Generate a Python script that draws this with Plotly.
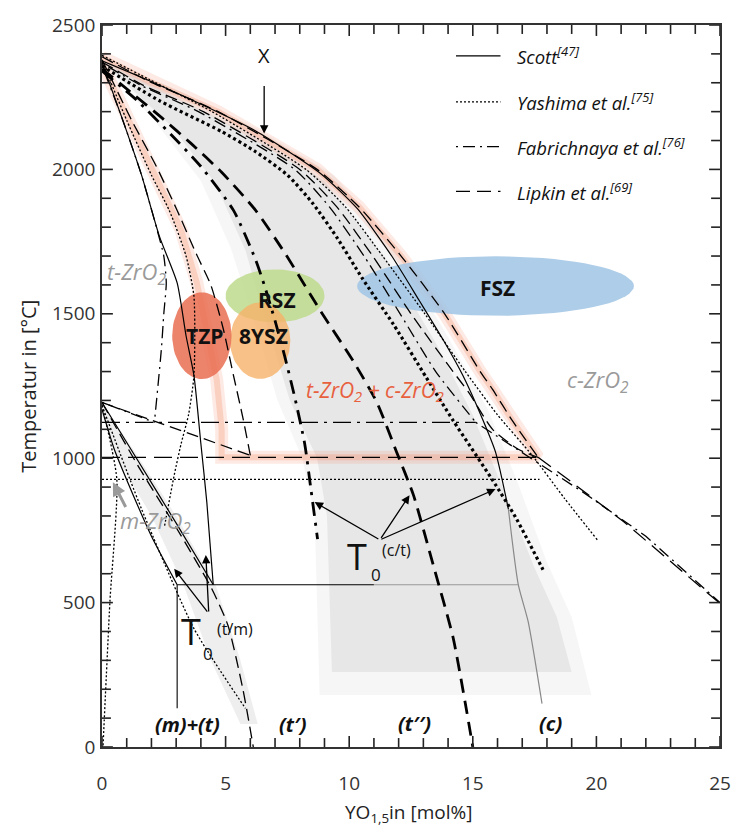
import math
import plotly.graph_objects as go

# ---------------- data (x: YO1.5 mol%, T: degC) ----------------
# Scott (solid)
SCOTT_C_X = [0, 1.92, 3.52, 6.2, 8.84, 10.32, 11.72, 12.84, 13.8, 14.6, 15.4, 15.92, 16.44]
SCOTT_C_T = [2376, 2307, 2245, 2134, 1986, 1865, 1700, 1545, 1410, 1286, 1134, 1021, 824]
SCOTT_C_LOW_X = [16.44, 16.84, 17.24, 17.8]
SCOTT_C_LOW_T = [824, 562, 434, 150]
SCOTT_T_X = [0, 0.8, 1.6, 2.32, 3.04, 3.4, 3.72, 4.0, 4.24, 4.5]
SCOTT_T_T = [2370, 2180, 1980, 1769, 1607, 1424, 1286, 1050, 848, 562]
SCOTT_EUT_X = [3.04, 11.0]
SCOTT_EUT_T = [562, 562]
SCOTT_EUT_GRAY_X = [11.0, 16.84]
SCOTT_EUT_GRAY_T = [562, 562]
SCOTT_MV_X = [3.04, 3.04]
SCOTT_MV_T = [562, 134]
SCOTT_LENS_UP_X = [0, 1.5, 3.0, 4.5]
SCOTT_LENS_UP_T = [1193, 985, 775, 562]
SCOTT_LENS_LO_X = [0, 0.5, 1.04, 2.0, 3.04]
SCOTT_LENS_LO_T = [1169, 1030, 917, 730, 562]

# Yashima et al. (dotted)
YASH_C_X = [0, 1.9, 4.45, 8.25, 9.85, 11.35, 13.06, 14.7, 16.0, 17.4, 18.7, 20.04]
YASH_C_T = [2395, 2312, 2200, 2000, 1870, 1700, 1500, 1300, 1150, 1010, 862, 717]
YASH_T_X = [0, 1.0, 2.0, 2.72, 3.4, 3.72, 3.72, 3.5, 3.2, 2.92, 2.52]
YASH_T_T = [2375, 2170, 1980, 1858, 1700, 1560, 1286, 1150, 1050, 941, 760]
YASH_EUT_X = [0, 17.7]
YASH_EUT_T = [927, 927]
YASH_M_X = [0, 1.6, 3.72, 5.8]
YASH_M_T = [1183, 824, 410, 134]
YASH_MAX_X = [0, 0.6, 0.32, 0.04]
YASH_MAX_T = [1183, 927, 503, 0]
YASH_T0_X = [0, 2.32, 4.84, 6.2, 7.52, 8.52, 9.52, 10.52, 11.8, 13.12, 14.2, 15.8, 16.72, 17.84]
YASH_T0_T = [2358, 2238, 2131, 2062, 1979, 1883, 1762, 1624, 1462, 1279, 1131, 924, 797, 614]

# Fabrichnaya et al. (dash-dot)
FAB_C_X = [0, 1.6, 3.9, 7.8, 9.2, 10.6, 12.06, 13.5, 15.12]
FAB_C_T = [2368, 2290, 2200, 2000, 1870, 1700, 1500, 1300, 1124]
FAB_HI_X = [15.12, 19.5, 22.0, 25.0]
FAB_HI_T = [1124, 880, 730, 500]
FAB_T_X = [0, 0.8, 1.6, 2.2, 2.5, 2.6, 2.5, 2.4, 2.12]
FAB_T_T = [2360, 2180, 1980, 1800, 1700, 1607, 1500, 1376, 1124]
FAB_EUT_X = [0, 15.12]
FAB_EUT_T = [1124, 1124]
FAB_M_X = [0, 2.12]
FAB_M_T = [1193, 1124]
FAB_T0_X = [0, 1.4, 2.8, 4.0, 5.32, 6.2, 6.6, 7.0, 7.4, 7.8, 8.2, 8.44, 8.72]
FAB_T0_T = [2341, 2240, 2120, 2010, 1858, 1690, 1590, 1476, 1350, 1210, 1050, 900, 720]

# Lipkin et al. (dashed)
LIP_C_X = [0, 1.9, 4.7, 8.7, 10.4, 12.1, 13.86, 15.3, 15.8, 16.6, 17.64]
LIP_C_T = [2390, 2305, 2200, 2000, 1870, 1700, 1500, 1300, 1238, 1130, 1003]
LIP_C2_X = [0, 1.7, 4.1, 8.0, 9.5, 10.95, 12.5, 14.2, 14.84, 15.8, 16.84, 17.64]
LIP_C2_T = [2372, 2290, 2200, 2000, 1870, 1700, 1500, 1300, 1227, 1100, 1031, 1003]
LIP_HI_X = [17.64, 19.0, 21.12, 25.0]
LIP_HI_T = [1003, 917, 779, 497]
LIP_T_X = [0, 1.2, 2.2, 3.04, 3.8, 4.4, 4.9, 5.32, 5.7, 6.0]
LIP_T_T = [2380, 2170, 2010, 1858, 1710, 1600, 1450, 1286, 1140, 1010]
LIP_EUT_X = [0, 17.64]
LIP_EUT_T = [1003, 1003]
LIP_MT_X = [0, 6.0]
LIP_MT_T = [1193, 1010]
LIP_M_X = [0, 1.44, 3.0, 4.44, 5.1, 5.7, 6.12]
LIP_M_T = [1193, 976, 760, 548, 420, 200, 0]
LIP_T0_X = [0, 1.2, 2.4, 3.6, 4.84, 6.2, 7.4, 8.84, 10.2, 11.12, 11.92, 12.6, 13.4, 14.2, 14.7, 15.0]
LIP_T0_T = [2348, 2265, 2180, 2090, 1990, 1860, 1710, 1510, 1331, 1193, 1021, 872, 630, 380, 150, 0]

# highlighted (orange glow) t+c field outline
GLOW_X = [0, 1.72, 3.2, 3.84, 4.64, 4.84, 4.84, 17.64, 16.6, 15.8, 15.3, 13.86, 12.1, 10.4, 8.7, 4.7, 1.9, 0]
GLOW_T = [2365, 2055, 1790, 1607, 1272, 1100, 1003, 1003, 1130, 1238, 1300, 1500, 1700, 1870, 2000, 2200, 2305, 2388]

# gray shaded regions
GRAY_CORE_X = [0.3, 2.8, 4.6, 5.8, 6.6, 7.6, 8.7, 9.1, 9.3, 19.0, 18.4, 17.5, 16.2, 15.0, 13.5, 11.5, 9.0, 6.0, 3.0, 0.3]
GRAY_CORE_T = [2350, 2150, 1950, 1720, 1480, 1200, 1000, 800, 260, 260, 450, 620, 900, 1150, 1400, 1690, 1960, 2120, 2250, 2365]
GRAY_HALO_X = [0.1, 2.2, 4.0, 5.2, 6.1, 7.1, 8.1, 8.6, 8.8, 19.8, 19.0, 18.0, 16.8, 15.6, 14.0, 12.0, 9.4, 6.3, 3.2, 0.1]
GRAY_HALO_T = [2365, 2160, 1960, 1730, 1490, 1200, 1000, 800, 180, 180, 450, 640, 920, 1170, 1420, 1710, 1980, 2140, 2270, 2380]
LENS_X = [0, 1.5, 3.0, 4.6, 5.6, 6.3, 5.6, 4.4, 3.3, 2.0, 0.6, 0]
LENS_T = [1193, 1000, 800, 560, 300, 80, 80, 300, 560, 800, 1000, 1150]

# material ellipses
ELL_NAMES = ["RSZ", "8YSZ", "TZP", "FSZ"]
ELL_CX = [7.0, 6.4, 4.04, 15.92]
ELL_CT = [1562, 1407, 1424, 1596]
ELL_RX = [2.0, 1.22, 1.2, 5.6]
ELL_RT = [92, 132, 150, 103]
ELL_COLORS = ["rgba(190,218,140,0.85)", "rgba(246,178,105,0.80)",
              "rgba(233,110,82,0.85)", "rgba(160,196,228,0.85)"]
ELL_LABEL_X = [7.08, 6.52, 4.16, 16.0]
ELL_LABEL_T = [1548, 1424, 1424, 1590]

# legend
LEG_NAMES = ["Scott<sup>[47]</sup>", "Yashima et al.<sup>[75]</sup>",
             "Fabrichnaya et al.<sup>[76]</sup>", "Lipkin et al.<sup>[69]</sup>"]
LEG_T = [2393, 2234, 2079, 1924]
LEG_DASH = ["solid", "2px,2px", "2px,5px,12px,5px", "14px,7px"]

# axis ticks
X_RANGE = [0, 25]
Y_RANGE = [0, 2500]
X_MAJOR = [0, 5, 10, 15, 20, 25]
X_MINOR = [v for v in range(0, 26) if v % 5]
Y_MAJOR = [0, 500, 1000, 1500, 2000, 2500]
Y_MINOR = [v for v in range(0, 2501, 100) if v % 500]

W, H = 743, 826
M_L, M_R, M_T, M_B = 102, 16, 22, 79
PX_X = (X_RANGE[1] - X_RANGE[0]) / (W - M_L - M_R)   # data units per pixel
PX_Y = (Y_RANGE[1] - Y_RANGE[0]) / (H - M_T - M_B)

fig = go.Figure()


def area(x, t, color):
    fig.add_trace(go.Scatter(x=x, y=t, mode="lines", fill="toself", fillcolor=color,
                             line=dict(width=0), hoverinfo="skip", showlegend=False))


def line(x, t, color="black", width=1.2, dash="solid", spline=True):
    fig.add_trace(go.Scatter(x=x, y=t, mode="lines", hoverinfo="skip", showlegend=False,
                             line=dict(color=color, width=width, dash=dash,
                                       shape="spline" if spline else "linear", smoothing=0.6)))


# shaded regions
area(GRAY_HALO_X, GRAY_HALO_T, "rgba(0,0,0,0.035)")
area(GRAY_CORE_X, GRAY_CORE_T, "rgba(0,0,0,0.06)")
area(LENS_X, LENS_T, "rgba(0,0,0,0.065)")

# orange glow
line(GLOW_X, GLOW_T, "rgba(245,140,105,0.18)", 13, spline=False)
line(GLOW_X, GLOW_T, "rgba(245,140,105,0.28)", 6, spline=False)

# ellipses
ANG = [i * 2 * math.pi / 72 for i in range(73)]
for cx, ct, rx, rt, col in zip(ELL_CX, ELL_CT, ELL_RX, ELL_RT, ELL_COLORS):
    area([cx + rx * math.cos(a) for a in ANG], [ct + rt * math.sin(a) for a in ANG], col)

DOT = "2px,2px"
DASHDOT = "2px,5px,12px,5px"
DASH = "12px,6px"

# Scott
line(SCOTT_C_X, SCOTT_C_T, width=1.2)
line(SCOTT_C_LOW_X, SCOTT_C_LOW_T, "#888", 1.2)
line(SCOTT_T_X, SCOTT_T_T, width=1.2)
line(SCOTT_EUT_X, SCOTT_EUT_T, width=1.1, spline=False)
line(SCOTT_EUT_GRAY_X, SCOTT_EUT_GRAY_T, "#999", 1.1, spline=False)
line(SCOTT_MV_X, SCOTT_MV_T, width=1.1, spline=False)
line(SCOTT_LENS_UP_X, SCOTT_LENS_UP_T, width=1.2)
line(SCOTT_LENS_LO_X, SCOTT_LENS_LO_T, width=1.2)

# Yashima
line(YASH_C_X, YASH_C_T, width=1.3, dash=DOT)
line(YASH_T_X, YASH_T_T, width=1.3, dash=DOT)
line(YASH_EUT_X, YASH_EUT_T, width=1.3, dash=DOT, spline=False)
line(YASH_M_X, YASH_M_T, width=1.3, dash=DOT)
line(YASH_MAX_X, YASH_MAX_T, width=1.3, dash=DOT)
line(YASH_T0_X, YASH_T0_T, width=3.2, dash="3px,3px")

# Fabrichnaya
line(FAB_C_X, FAB_C_T, width=1.3, dash=DASHDOT)
line(FAB_HI_X, FAB_HI_T, width=1.3, dash=DASHDOT, spline=False)
line(FAB_T_X, FAB_T_T, width=1.3, dash=DASHDOT)
line(FAB_EUT_X, FAB_EUT_T, width=1.3, dash="18px,6px,3px,6px", spline=False)
line(FAB_M_X, FAB_M_T, width=1.3, dash=DASHDOT, spline=False)
line(FAB_T0_X, FAB_T0_T, width=2.8, dash="14px,7px,3px,7px")

# Lipkin
line(LIP_C_X, LIP_C_T, width=1.3, dash=DASH)
line(LIP_C2_X, LIP_C2_T, width=1.3, dash=DASH)
line(LIP_HI_X, LIP_HI_T, width=1.3, dash="16px,8px", spline=False)
line(LIP_T_X, LIP_T_T, width=1.3, dash=DASH)
line(LIP_EUT_X, LIP_EUT_T, width=1.4, dash="18px,8px", spline=False)
line(LIP_MT_X, LIP_MT_T, width=1.3, dash=DASH, spline=False)
line(LIP_M_X, LIP_M_T, width=1.3, dash=DASH)
line(LIP_T0_X, LIP_T0_T, width=2.8, dash="14px,8px")

# inside tick marks on all four sides: one short trace per tick
for v in X_MAJOR + X_MINOR:
    ln = (11 if v in X_MAJOR else 9) * PX_Y
    line([v, v], [Y_RANGE[0], Y_RANGE[0] + ln], "#222", 1.6, spline=False)
    line([v, v], [Y_RANGE[1], Y_RANGE[1] - ln], "#222", 1.6, spline=False)
for v in Y_MAJOR + Y_MINOR:
    ln = (11 if v in Y_MAJOR else 9) * PX_X
    line([X_RANGE[0], X_RANGE[0] + ln], [v, v], "#222", 1.6, spline=False)
    line([X_RANGE[1], X_RANGE[1] - ln], [v, v], "#222", 1.6, spline=False)

# legend (manual)
for name, t, dash in zip(LEG_NAMES, LEG_T, LEG_DASH):
    fig.add_shape(type="line", xref="x", yref="y", x0=14.32, x1=16.12, y0=t, y1=t,
                  line=dict(color="black", width=1.3, dash=dash))
    fig.add_annotation(x=16.72, y=t, xref="x", yref="y", text="<i>" + name + "</i>",
                       showarrow=False, xanchor="left", yanchor="middle",
                       font=dict(size=18.5, color="#111"))


def text(x, t, s, size=18, color="#111", xanchor="center", bold=False, italic=False):
    if bold:
        s = "<b>" + s + "</b>"
    if italic:
        s = "<i>" + s + "</i>"
    fig.add_annotation(x=x, y=t, xref="x", yref="y", text=s, showarrow=False,
                       xanchor=xanchor, yanchor="middle", font=dict(size=size, color=color))


def arrow(x0, t0, x1, t1, color="black", width=1.3, size=1.3):
    fig.add_annotation(x=x1, y=t1, ax=x0, ay=t0, xref="x", yref="y", axref="x", ayref="y",
                       text=" ", showarrow=True, arrowhead=2, arrowsize=size,
                       arrowwidth=width, arrowcolor=color, font=dict(size=1))


for nm, x, t in zip(ELL_NAMES, ELL_LABEL_X, ELL_LABEL_T):
    text(x, t, nm, 21, "#111", bold=True)

text(0.12, 1641, "t-ZrO<sub>2</sub>", 22, "#9a9a9a", xanchor="left", italic=True)
text(0.64, 779, "m-ZrO<sub>2</sub>", 22, "#9a9a9a", xanchor="left", italic=True)
text(18.72, 1269, "c-ZrO<sub>2</sub>", 22, "#9a9a9a", xanchor="left", italic=True)
text(8.16, 1234, "t-ZrO<sub>2</sub> + c-ZrO<sub>2</sub>", 21, "#e8603e", xanchor="left", italic=True)

text(3.44, 79, "(m)+(t)", 20, bold=True, italic=True)
text(7.72, 79, "(t\u2032)", 20, bold=True, italic=True)
text(12.64, 83, "(t\u2032\u2032)", 20, bold=True, italic=True)
text(18.16, 83, "(c)", 20, bold=True, italic=True)

text(6.56, 2393, "X", 20)
arrow(6.56, 2296, 6.56, 2124)

# T0 (c/t)
text(10.3, 659, "T", 36)
text(11.1, 597, "0", 17)
text(11.92, 683, "(c/t)", 16)
arrow(11.24, 717, 8.6, 848)
arrow(11.24, 717, 12.44, 872)
arrow(11.24, 717, 15.92, 893)

# T0 (t/m)
text(3.6, 400, "T", 36)
text(4.3, 324, "0", 17)
text(5.4, 410, "(t/m)", 16)
arrow(4.32, 462, 2.92, 617)
arrow(4.32, 462, 4.2, 665)

# m-ZrO2 gray arrow
arrow(1.0, 824, 0.44, 917, "#9a9a9a", 3.0, 0.9)

# axis titles
fig.add_annotation(xref="paper", yref="paper", x=-0.12, y=0.50, xanchor="center", yanchor="middle",
                   text="Temperatur in [°C]", textangle=-90, showarrow=False,
                   font=dict(size=20, color="#222"))
fig.add_annotation(xref="paper", yref="paper", x=0.496, y=-0.092, xanchor="center", yanchor="middle",
                   text="YO<sub>1,5</sub>in [mol%]", showarrow=False,
                   font=dict(size=19, color="#222"))

axis_common = dict(ticks="", showline=True, linecolor="#333", linewidth=1.5, mirror=True,
                   showgrid=False, zeroline=False, tickfont=dict(size=19, color="#333"))

fig.update_layout(
    width=W, height=H,
    margin=dict(l=M_L, r=M_R, t=M_T, b=M_B),
    paper_bgcolor="white", plot_bgcolor="white",
    font=dict(family="Open Sans, sans-serif", color="#222"),
    showlegend=False,
    xaxis=dict(range=X_RANGE, tickvals=X_MAJOR, ticklabelstandoff=18, **axis_common),
    yaxis=dict(range=Y_RANGE, tickvals=Y_MAJOR, ticklabelstandoff=1, **axis_common),
)

fig.write_html("out.html")
